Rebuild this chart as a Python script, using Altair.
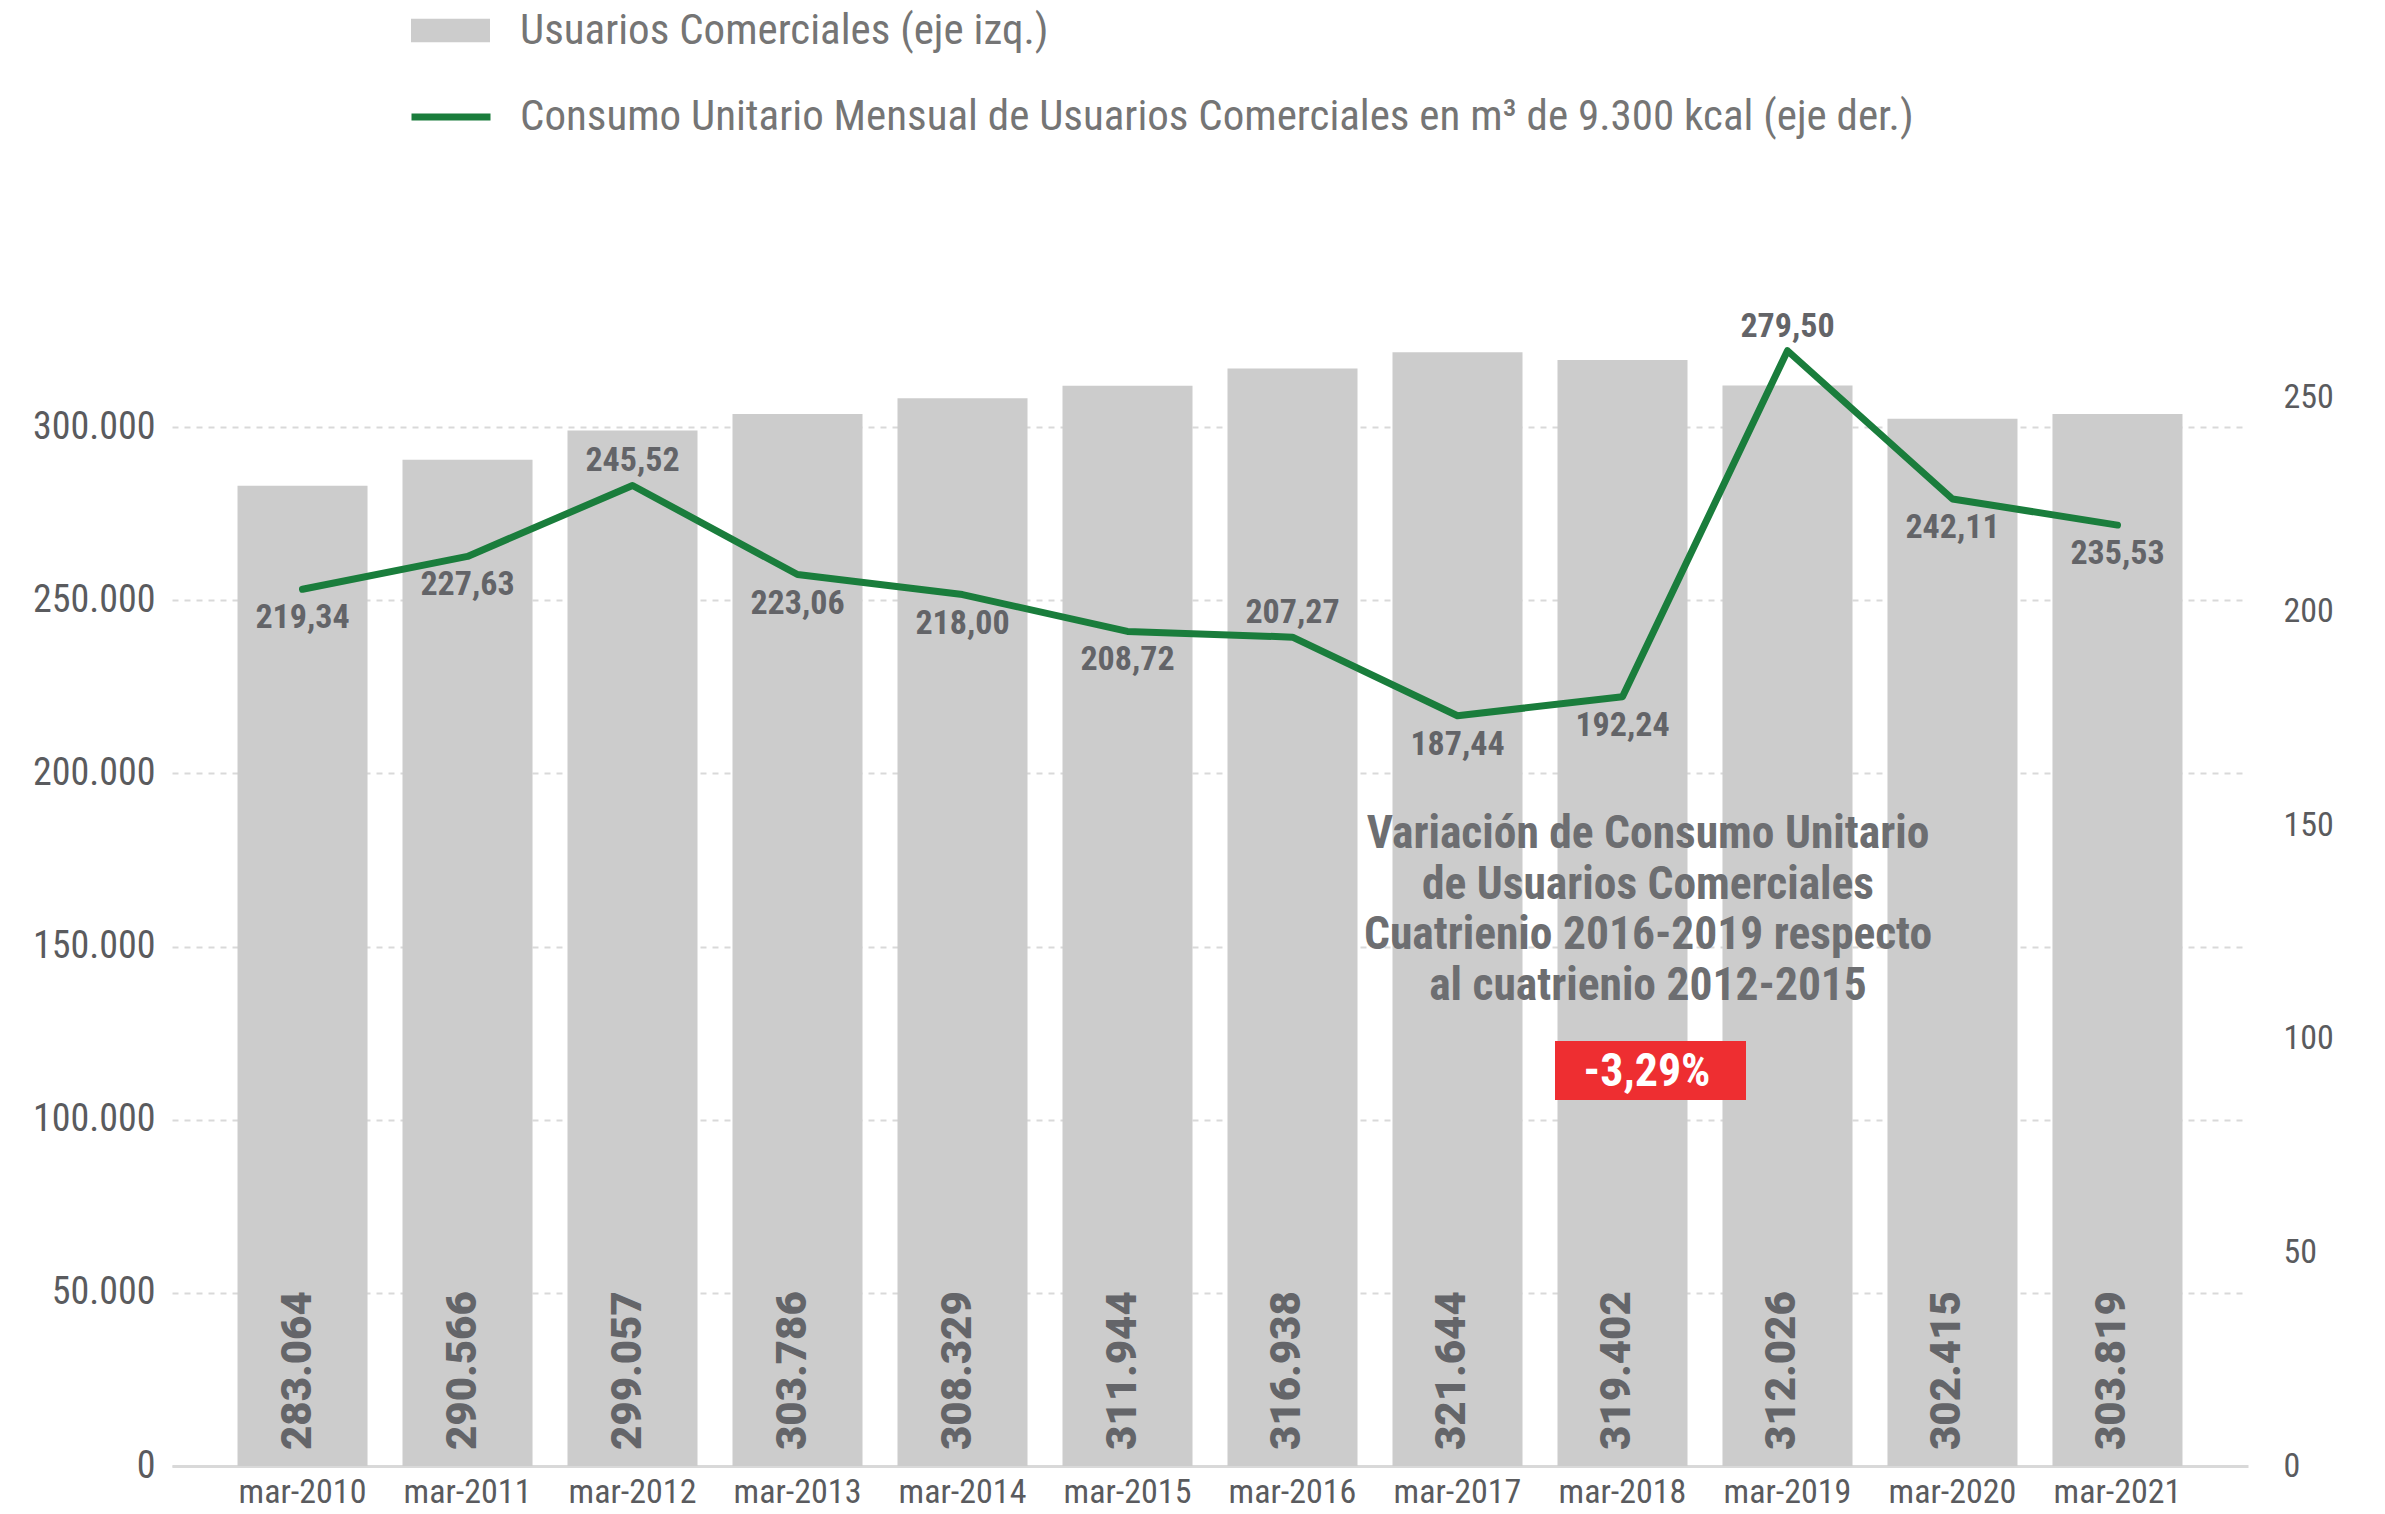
import altair as alt
import pandas as pd

# ---------------- data ----------------
CATS = ["mar-2010", "mar-2011", "mar-2012", "mar-2013", "mar-2014", "mar-2015",
        "mar-2016", "mar-2017", "mar-2018", "mar-2019", "mar-2020", "mar-2021"]
USERS = [283064, 290566, 299057, 303786, 308329, 311944,
         316938, 321644, 319402, 312026, 302415, 303819]
CONSUMO = [219.34, 227.63, 245.52, 223.06, 218.00, 208.72,
           207.27, 187.44, 192.24, 279.50, 242.11, 235.53]
LABEL_ABOVE = ["mar-2012", "mar-2016", "mar-2019"]
LEFT_TICKS = [0, 50000, 100000, 150000, 200000, 250000, 300000]
RIGHT_TICKS = [0, 50, 100, 150, 200, 250]
LEG_BAR = "Usuarios Comerciales (eje izq.)"
LEG_LINE = "Consumo Unitario Mensual de Usuarios Comerciales en m³ de 9.300 kcal (eje der.)"
NOTE_LINES = ["Variación de Consumo Unitario", "de Usuarios Comerciales",
              "Cuatrienio 2016-2019 respecto", "al cuatrienio 2012-2015"]
NOTE_VALUE = "-3,29%"

df = pd.DataFrame({"cat": CATS, "users": USERS, "consumo": CONSUMO})
df["users_lbl"] = [f"{v:,}".replace(",", ".") for v in USERS]
df["consumo_lbl"] = [f"{v:.2f}".replace(".", ",") for v in CONSUMO]
df["pos"] = ["above" if c in LABEL_ABOVE else "below" for c in CATS]
df["serie_bar"] = LEG_BAR
df["serie_line"] = LEG_LINE

# ---------------- style ----------------
W, H = 2076, 1212
COND = "Roboto Condensed, Liberation Sans Narrow, Arial Narrow, Roboto, sans-serif"
GRAY_BAR = "#cccccc"
GREEN = "#1a7d3c"
AX_COL = "#5a5b5e"
LBL_COL = "#636468"

x_enc = alt.X("cat:N", sort=CATS,
              scale=alt.Scale(paddingInner=0.212, paddingOuter=0.397),
              axis=alt.Axis(title=None, labelAngle=0, ticks=False,
                            domainColor="#d9d9d9", domainWidth=3,
                            labelFont=COND, labelFontSize=34, labelColor=AX_COL,
                            labelPadding=9))

base = alt.Chart(df)

bars = base.mark_bar().encode(
    x=x_enc,
    y=alt.Y("users:Q",
            scale=alt.Scale(domain=[0, 350000], nice=False, zero=True),
            axis=alt.Axis(title=None, orient="left", values=LEFT_TICKS,
                          labelExpr="replace(format(datum.value, ','), ',', '.')",
                          grid=True, gridDash=[6, 6], gridColor="#d9d9d9", gridWidth=2,
                          domain=False, ticks=False,
                          labelFont=COND, labelFontSize=38, labelColor=AX_COL,
                          labelPadding=17)),
    fill=alt.Fill("serie_bar:N",
                  scale=alt.Scale(domain=[LEG_BAR], range=[GRAY_BAR]),
                  legend=alt.Legend(title=None, orient="none", legendX=239, legendY=-263,
                                    symbolType="M-1,-0.3H1V0.3H-1Z", symbolSize=6241,
                                    symbolStrokeWidth=0, padding=0,
                                    labelFont=COND, labelFontSize=43, labelColor="#757575",
                                    labelOffset=30, labelLimit=2000)),
)

bar_lbl = base.mark_text(angle=270, align="left", baseline="middle", dx=16, dy=-5,
                         font="Roboto", fontWeight=900, fontSize=42,
                         color="#646569").encode(
    x=x_enc, y=alt.datum(0), text="users_lbl:N")

bar_layer = alt.layer(bars, bar_lbl)

line_y = alt.Y("consumo:Q", scale=alt.Scale(domain=[-1.77, 303.9], nice=False, zero=False),
               axis=None)

line = base.mark_line(strokeWidth=7, strokeCap="round", strokeJoin="round").encode(
    x=x_enc, y=line_y,
    stroke=alt.Stroke("serie_line:N",
                      scale=alt.Scale(domain=[LEG_LINE], range=[GREEN]),
                      legend=alt.Legend(title=None, orient="none", legendX=236, legendY=-180,
                                        symbolType="stroke", symbolSize=6241,
                                        symbolStrokeWidth=7, padding=0,
                                        labelFont=COND, labelFontSize=43,
                                        labelColor="#757575",
                                        labelOffset=26, labelLimit=2000)),
)

lbl_below = base.transform_filter(alt.datum.pos == "below").mark_text(
    align="center", baseline="middle", dy=29, font=COND, fontWeight="bold",
    fontSize=34, color=LBL_COL).encode(x=x_enc, y=line_y, text="consumo_lbl:N")

lbl_above = base.transform_filter(alt.datum.pos == "above").mark_text(
    align="center", baseline="middle", dy=-24, font=COND, fontWeight="bold",
    fontSize=34, color=LBL_COL).encode(x=x_enc, y=line_y, text="consumo_lbl:N")

line_layer = alt.layer(line, lbl_below, lbl_above)

# right-hand axis (as printed in the original)
raxis = alt.Chart(pd.DataFrame({"r": RIGHT_TICKS})).mark_point(opacity=0).encode(
    y=alt.Y("r:Q", scale=alt.Scale(domain=[0, 283.7], nice=False),
            axis=alt.Axis(title=None, orient="right", values=RIGHT_TICKS,
                          domain=False, ticks=False, grid=False,
                          labelFont=COND, labelFontSize=34, labelColor=AX_COL,
                          labelPadding=35)))

one = pd.DataFrame({"k": [0]})
note = alt.Chart(one).mark_text(
    text=NOTE_LINES, align="center", baseline="alphabetic", lineHeight=50.7,
    font=COND, fontWeight="bold", fontSize=45.5, color="#6d6e71").encode(
    x=alt.value(1476), y=alt.value(594))

box = alt.Chart(one).mark_rect(color="#ee2e31").encode(
    x=alt.value(1383), x2=alt.value(1574), y=alt.value(787), y2=alt.value(846))

box_txt = alt.Chart(one).mark_text(
    text=NOTE_VALUE, align="center", baseline="middle", font=COND, fontWeight="bold",
    fontSize=46, color="white").encode(x=alt.value(1475), y=alt.value(818))

chart = alt.layer(bar_layer, line_layer, raxis, note, box, box_txt).resolve_scale(
    y="independent", fill="independent", stroke="independent"
).properties(
    width=W, height=H,
    autosize=alt.AutoSizeParams(type="none"),
    padding={"left": 164, "top": 246, "right": 129, "bottom": 40},
).configure_view(stroke=None)

chart.save("out.html", embed_options={"renderer": "svg", "actions": False})
